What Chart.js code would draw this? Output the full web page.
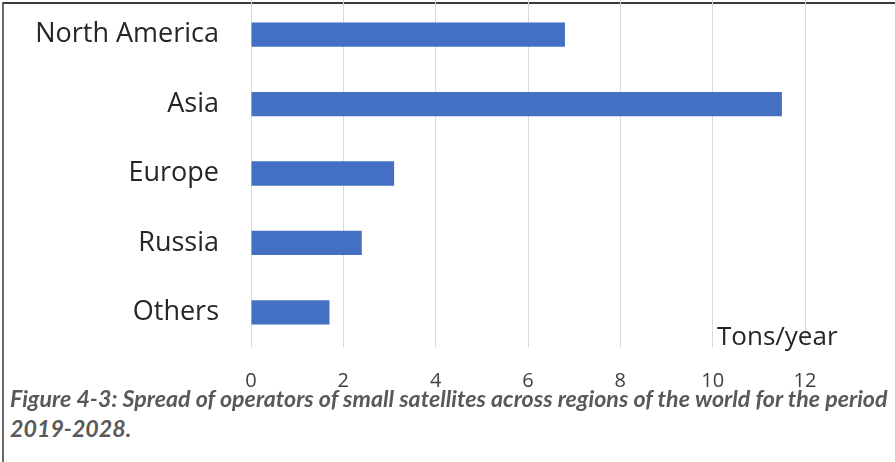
<!DOCTYPE html>
<html lang="en">
<head>
  <meta charset="UTF-8">
  <title>Small satellite operators by region</title>
  <script src="https://cdn.jsdelivr.net/npm/chart.js"></script>
  <style>
    html, body { margin: 0; padding: 0; background: #fff; }
    #frame {
      position: relative;
      width: 895px;
      height: 462px;
      overflow: hidden;
      font-family: "Open Sans", Lato, sans-serif;
    }
    #frame::before {
      content: "";
      position: absolute;
      left: 2px; top: 2px; right: 0; bottom: 0;
      border-top: 2px solid #3a3a3a;
      border-left: 2px solid #6a6a6a;
    }
    #myChart { position: absolute; left: 0; top: 0; }
    #unit {
      position: absolute;
      left: 717px;
      top: 318px;
      font-size: 26px;
      line-height: 34px;
      color: #262626;
    }
    .caption {
      position: absolute;
      left: 10px;
      font-family: Lato, sans-serif;
      font-size: 23px;
      line-height: 30px;
      font-weight: bold;
      font-style: italic;
      color: #595959;
      white-space: nowrap;
      transform-origin: left center;
    }
  </style>
</head>
<body>
  <div id="frame">
    <canvas id="myChart" width="895" height="395"></canvas>
    <div id="unit">Tons/year</div>
    <div class="caption" id="cap1" style="top:383px">Figure 4-3: Spread of operators of small satellites across regions of the world for the period</div>
    <div class="caption" id="cap2" style="top:413px">2019-2028.</div>
  </div>
  <script>
    const regions = ['North America', 'Asia', 'Europe', 'Russia', 'Others'];
    const tonsPerYear = [6.8, 11.5, 3.1, 2.4, 1.7];
    const xTicks = [0, 2, 4, 6, 8, 10, 12];

    // squeeze the caption so the first line spans the frame like the condensed original
    const cap1 = document.getElementById('cap1');
    const cap2 = document.getElementById('cap2');
    const squeeze = 878 / cap1.scrollWidth;
    cap1.style.transform = `scaleX(${squeeze})`;
    cap2.style.transform = `scaleX(${squeeze})`;

    const ctx = document.getElementById('myChart');

    new Chart(ctx, {
      type: 'bar',
      data: {
        labels: regions,
        datasets: [{
          data: tonsPerYear,
          backgroundColor: '#4470c4',
          borderWidth: 0,
          categoryPercentage: 1,
          barPercentage: 0.35
        }]
      },
      options: {
        indexAxis: 'y',
        responsive: false,
        animation: false,
        layout: { padding: { left: 0, right: 90, top: 0, bottom: 0 } },
        plugins: {
          legend: { display: false },
          tooltip: { enabled: false }
        },
        scales: {
          x: {
            min: 0,
            max: 12,
            afterBuildTicks: (scale) => {
              scale.ticks = xTicks.map(v => ({ value: v }));
            },
            afterFit: (scale) => { scale.height = 48; },
            grid: { color: '#d9d9d9', lineWidth: 1, drawTicks: false },
            border: { display: false },
            ticks: {
              padding: 22,
              color: '#404040',
              font: { family: 'Open Sans', size: 20 }
            }
          },
          y: {
            // keep the category band flush with the top of the frame
            afterFit: (scale) => {
              scale.width = 251;
              scale.paddingTop = 0;
              scale.paddingBottom = 0;
            },
            grid: { display: false, drawTicks: false },
            border: { display: false },
            ticks: {
              padding: 32,
              color: '#262626',
              font: { family: 'Open Sans', size: 27 }
            }
          }
        }
      }
    });
  </script>
</body>
</html>
